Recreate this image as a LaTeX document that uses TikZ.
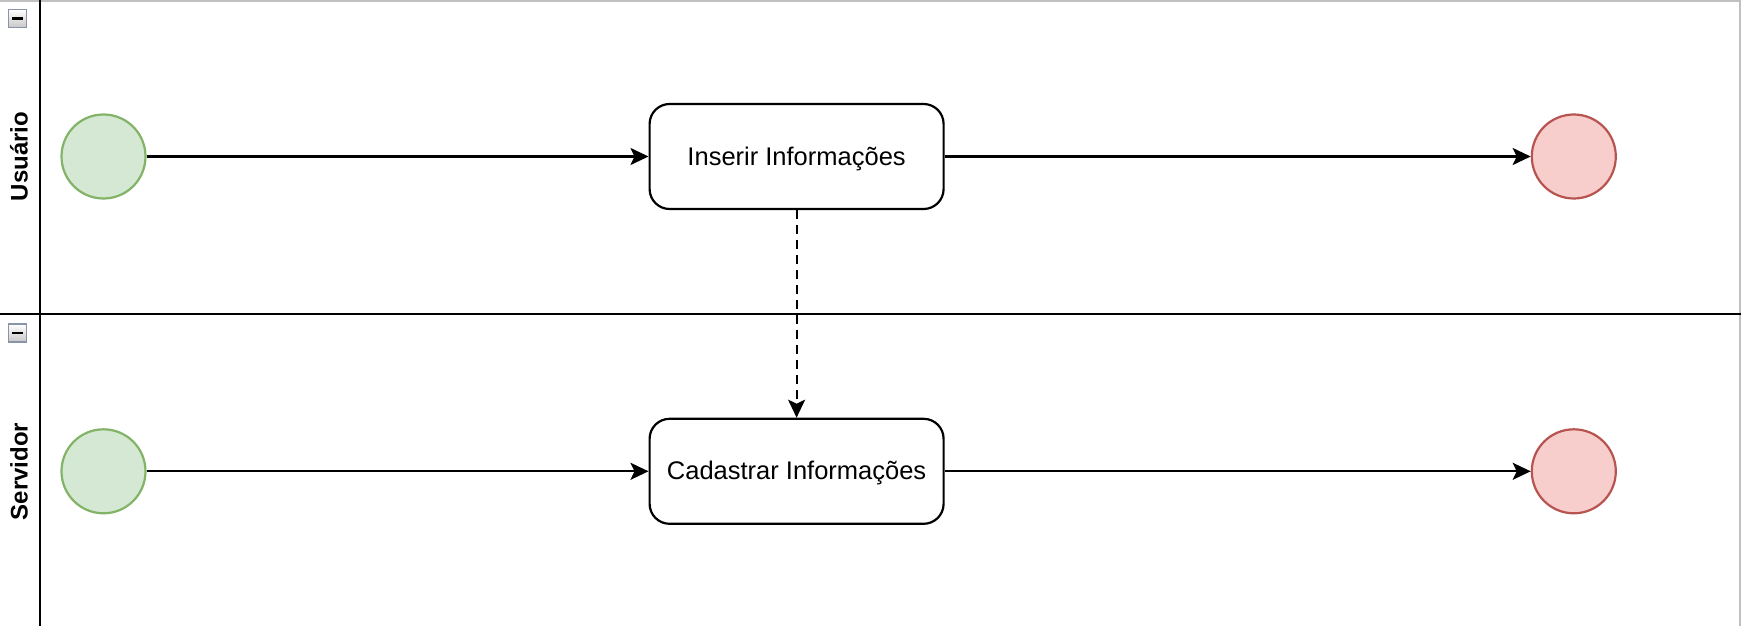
\documentclass[tikz,border=0pt]{standalone}
\usepackage{fontspec}
\setmainfont{Liberation Sans}
\usetikzlibrary{arrows.meta}
\definecolor{startfill}{HTML}{D5E8D4}
\definecolor{startline}{HTML}{82B366}
\definecolor{endfill}{HTML}{F8CECC}
\definecolor{endline}{HTML}{B85450}
\definecolor{frameline}{HTML}{C0C0C0}
\definecolor{iconline}{HTML}{8A94A8}
\tikzset{
  startev/.style={circle, draw=startline, fill=startfill, line width=2.2pt, minimum size=84pt, inner sep=0pt},
  endev/.style={circle, draw=endline, fill=endfill, line width=2.2pt, minimum size=84pt, inner sep=0pt},
  taskbox/.style={rectangle, rounded corners=20pt, draw=black, fill=white, line width=2.2pt, minimum width=294pt, minimum height=105pt, text height=17pt, text depth=0pt, font=\fontsize{25.5}{29}\selectfont},
  lanelabel/.style={rotate=90, font=\bfseries\fontsize{24}{28}\selectfont},
  laneline/.style={line width=2.4pt, black},
  flow/.style={line width=2.2pt, -{Stealth[length=18pt, width=17pt, inset=4pt]}},
  msg/.style={flow, dash pattern=on 9pt off 6pt},
  minusicon/.style={rectangle, draw=iconline, line width=1.5pt, top color=white, bottom color=black!22, minimum size=18pt, inner sep=0pt,
    path picture={\draw[line width=2.4pt, black] ([xshift=-5.5pt]path picture bounding box.center) -- ([xshift=5.5pt]path picture bounding box.center);}}
}
\begin{document}
\begin{tikzpicture}[x=1pt, y=-1pt]
\useasboundingbox (0,0) rectangle (1741,626);
\fill[white] (0,0) rectangle (1741,626);
% frame
\draw[frameline, line width=1.5pt] (0,0.8) -- (1740,0.8) -- (1740,626);
% lane lines
\draw[laneline] (40,0) -- (40,626);
\draw[laneline] (0,314) -- (1741,314);
% icons
\node[minusicon] (m1) at (17.5,18.5) {};
\node[minusicon] (m2) at (17.5,333) {};
% lane labels
\node[lanelabel] (l1) at (19,156.5) {Usuário};
\node[lanelabel] (l2) at (19,471.5) {Servidor};
% top lane
\node[startev] (s1) at (103.5,156.5) {};
\node[taskbox] (t1) at (796.6,156.5) {Inserir Informações};
\node[endev] (e1) at (1573.8,156.5) {};
% bottom lane
\node[startev] (s2) at (103.5,471.3) {};
\node[taskbox] (t2) at (796.6,471.3) {Cadastrar Informações};
\node[endev] (e2) at (1573.8,471.3) {};
% connectors
\draw[flow] (s1) -- (t1);
\draw[flow] (t1) -- (e1);
\draw[flow] (s2) -- (t2);
\draw[flow] (t2) -- (e2);
\draw[msg] (t1) -- (t2);
\end{tikzpicture}
\end{document}
